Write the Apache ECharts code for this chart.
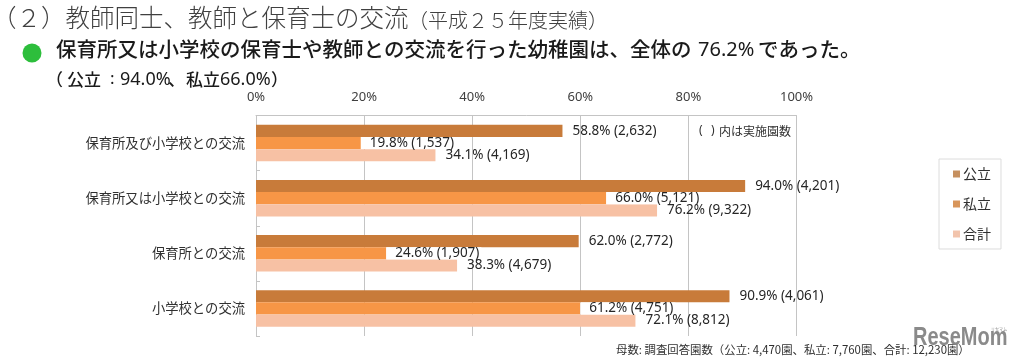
<!DOCTYPE html>
<html><head><meta charset="utf-8">
<style>html,body{margin:0;padding:0;background:#fff}#c{width:1022px;height:362px}</style>
<script src="https://cdn.jsdelivr.net/npm/echarts@6/dist/echarts.min.js"></script>
</head><body><div id="c"></div>
<script>
const categories = ['保育所及び小学校との交流','保育所又は小学校との交流','保育所との交流','小学校との交流'];
const seriesNames = ['公立','私立','合計'];
// Bar lengths. In the reference they sit a little short of the printed percentages.
const publicBars = [56.7,90.5,59.7,87.6];
const privateBars = [19.4,64.8,24.1,60.0];
const totalBars = [33.2,74.2,37.2,70.2];
// Data labels exactly as printed in the reference.
const publicLabels = ['58.8% (2,632)','94.0% (4,201)','62.0% (2,772)','90.9% (4,061)'];
const privateLabels = ['19.8% (1,537)','66.0% (5,121)','24.6% (1,907)','61.2% (4,751)'];
const totalLabels = ['34.1% (4,169)','76.2% (9,322)','38.3% (4,679)','72.1% (8,812)'];
const colors = ['#C87B3A','#F79646','#F7C1A4'];
const legendColors = ['#C6905F','#D8955A','#F2C4AC'];
const FONT = '"Noto Sans","Noto Sans CJK JP",sans-serif';
const CJK = '"Noto Sans CJK JP",sans-serif';
const bars = [publicBars,privateBars,totalBars];
const labels = [publicLabels,privateLabels,totalLabels];
const chart = echarts.init(document.getElementById('c'),null,{renderer:'canvas'});
const T=(left,top,text,fontSize,fontFamily,fill,fontWeight)=>({type:'text',left,top,style:{text,fontSize,fontFamily,fill,fontWeight:fontWeight||'normal'}});
chart.setOption({
  animation:false,
  backgroundColor:'#fff',
  textStyle:{fontFamily:FONT},
  grid:{left:256,top:115.5,width:540.5,height:220.5,containLabel:false},
  xAxis:{type:'value',position:'top',min:0,max:100,interval:20,
    axisLabel:{formatter:'{value}%',fontSize:13,color:'#404040',margin:12,fontFamily:FONT},
    axisLine:{show:true,lineStyle:{color:'#c4c4c4',width:1}},
    axisTick:{show:false},
    splitLine:{show:true,lineStyle:{color:'#c4c4c4',width:1}}},
  yAxis:{type:'category',inverse:true,data:categories,
    axisLabel:{fontSize:13.3,color:'#303030',margin:11,fontFamily:CJK},
    axisLine:{show:true,onZero:false,lineStyle:{color:'#c4c4c4',width:1}},
    axisTick:{show:true,inside:true,length:4,lineStyle:{color:'#c4c4c4'}}},
  legend:{orient:'vertical',left:939,top:159,width:64,
    padding:[8,10,8,14],itemGap:16,itemWidth:7,itemHeight:7,icon:'rect',
    borderColor:'#dcdcdc',borderWidth:1,backgroundColor:'#fff',
    textStyle:{fontSize:14,color:'#303030',fontFamily:CJK,padding:[0,0,0,-2]},
    data:seriesNames.map((n,i)=>({name:n,itemStyle:{color:legendColors[i]}}))},
  series:seriesNames.map((n,i)=>({
    name:n,type:'bar',data:bars[i],barWidth:12.2,barGap:0,
    itemStyle:{color:colors[i]},
    label:Object.assign({show:true,position:'right',fontSize:13.5,color:'#262626',fontFamily:FONT,
      formatter:p=>labels[i][p.dataIndex]},
      i===1?{distance:0,padding:[0,2,0,9],lineHeight:12,backgroundColor:'#fff'}:{distance:10})
  })),
  graphic:[
    T(-8,5,'（２）教師同士、教師と保育士の交流',24.5,CJK,'#404040',300),
    T(408,10,'（平成２５年度実績）',20,CJK,'#404040',300),
    {type:'circle',shape:{cx:32,cy:53,r:9.5},style:{fill:'#2DBE3C'}},
    T(56,39,'保育所又は小学校の保育士や教師との交流を行った幼稚園は、全体の',20.5,CJK,'#1a1a1a',500),
    T(698,40,'76.2%',20,FONT,'#1a1a1a'),
    T(758,39,'であった。',20.5,CJK,'#1a1a1a',500),
    T(46,71,'（',17,CJK,'#1a1a1a',500),
    T(67,71,'公立',17,CJK,'#1a1a1a',500),
    T(110,71,':',17,FONT,'#1a1a1a'),
    T(120,71,'94.0%',18,FONT,'#1a1a1a'),
    T(168,71,'、',17,CJK,'#1a1a1a',500),
    T(186,71,'私立',17,CJK,'#1a1a1a',500),
    T(220,71,'66.0%',18,FONT,'#1a1a1a'),
    T(271,71,'）',17,CJK,'#1a1a1a',500),
    T(699,125,'(',12,FONT,'#303030'),
    T(711,125,')',12,FONT,'#303030'),
    T(719,125,'内は実施園数',12,CJK,'#303030'),
    T(616,344,'母数: 調査回答園数（公立: 4,470園、私立: 7,760園、合計: 12,230園）',11.4,CJK,'#303030'),
    {type:'text',x:913,y:325,scaleY:1.3,style:{text:'ReseMom',fontSize:20,fontWeight:'bold',fontFamily:'"Liberation Sans",sans-serif',fill:'#8a8a8a'}},
    T(991,327,'リセマム',4,CJK,'#8a8a8a')
  ]
});
</script></body></html>
